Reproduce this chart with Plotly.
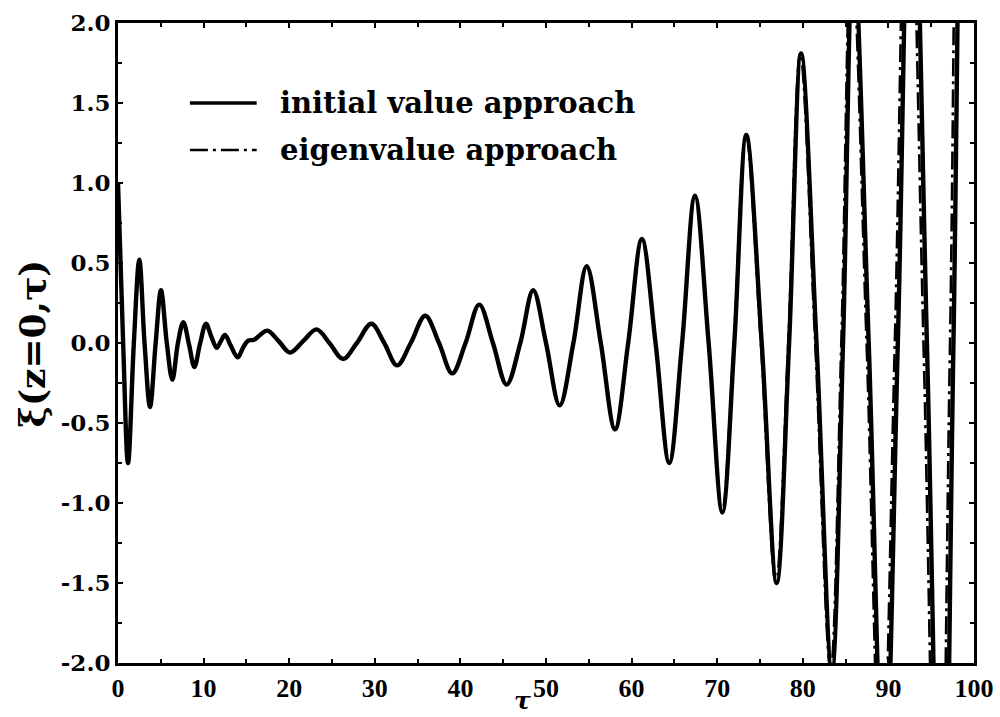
import plotly.graph_objects as go

# ---- data ----
tau_initial = [0, 0.6, 1.17, 1.85, 2.49, 3.1, 3.74, 4.4, 5.02, 5.7, 6.35, 7.0, 7.63, 8.3, 8.92,
               9.6, 10.28, 10.9, 11.53, 12.0, 12.5, 13.2, 13.98, 14.6, 15.2, 15.9, 16.6, 17.45,
               18.8, 20.1, 21.6, 23.2, 24.7, 26.3, 27.9, 29.6, 31.1, 32.6, 34.2, 35.9, 37.5,
               39.05, 40.6, 42.2, 43.8, 45.4, 47.0, 48.5, 50.0, 51.6, 53.2, 54.75, 56.4, 58.06,
               59.6, 61.2, 62.8, 64.4, 65.9, 67.4, 69.0, 70.6, 72.0, 73.4, 75.2, 76.95, 78.4,
               79.8, 81.6, 83.4, 84.7, 85.9, 87.7, 89.5, 91.1, 92.7, 94.5, 96.3, 97.6, 99.2, 100]
xi_initial = [1.0, 0.0, -0.75, 0.0, 0.52, 0.0, -0.40, 0.0, 0.33, 0.0, -0.23, 0.0, 0.13, -0.01, -0.15,
              0.0, 0.12, 0.04, -0.03, 0.01, 0.05, -0.02, -0.09, -0.03, 0.015, 0.02, 0.05, 0.077,
              0.01, -0.06, 0.01, 0.085, 0.0, -0.10, 0.0, 0.12, 0.0, -0.14, 0.0, 0.17, 0.0,
              -0.19, 0.0, 0.24, 0.0, -0.26, 0.0, 0.33, 0.0, -0.39, 0.0, 0.48, 0.0, -0.54,
              0.0, 0.65, 0.0, -0.75, 0.0, 0.92, 0.0, -1.06, 0.0, 1.30, 0.0, -1.50, 0.0,
              1.81, 0.0, -2.05, 0.0, 2.5, 0.0, -2.9, 0.0, 3.5, 0.0, -4.0, 0.0, 5.0, 4.5]

tau_eigen = [0, 0.6, 1.17, 1.85, 2.49, 3.1, 3.74, 4.4, 5.02, 5.7, 6.35, 7.0, 7.63, 8.3, 8.92,
             9.6, 10.28, 10.9, 11.53, 12.0, 12.5, 13.2, 13.98, 14.6, 15.2, 15.9, 16.6, 17.45,
             18.8, 20.1, 21.6, 23.2, 24.7, 26.3, 27.9, 29.6, 31.1, 32.6, 34.2, 35.9, 37.5,
             39.05, 40.6, 42.2, 43.8, 45.4, 47.0, 48.5, 50.0, 51.6, 53.2, 54.75, 56.4, 58.06,
             59.6, 61.2, 62.8, 64.4, 65.9, 67.4, 69.0, 70.55, 71.95, 73.35, 75.1, 76.85, 78.3,
             79.7, 81.45, 83.25, 84.5, 85.7, 87.45, 89.2, 90.75, 92.3, 94.1, 95.9, 97.2, 98.8, 100]
xi_eigen = [1.0, 0.0, -0.75, 0.0, 0.52, 0.0, -0.40, 0.0, 0.33, 0.0, -0.23, 0.0, 0.13, -0.01, -0.15,
            0.0, 0.12, 0.04, -0.03, 0.01, 0.05, -0.02, -0.09, -0.03, 0.015, 0.02, 0.05, 0.077,
            0.01, -0.06, 0.01, 0.085, 0.0, -0.10, 0.0, 0.12, 0.0, -0.14, 0.0, 0.17, 0.0,
            -0.19, 0.0, 0.24, 0.0, -0.26, 0.0, 0.33, 0.0, -0.39, 0.0, 0.48, 0.0, -0.54,
            0.0, 0.65, 0.0, -0.75, 0.0, 0.92, 0.0, -1.06, 0.0, 1.30, 0.0, -1.50, 0.0,
            1.81, 0.0, -2.05, 0.0, 2.5, 0.0, -2.9, 0.0, 3.5, 0.0, -4.0, 0.0, 5.0, 5.5]

x_tick_vals = [0, 10, 20, 30, 40, 50, 60, 70, 80, 90, 100]
x_tick_text = ["0", "10", "20", "30", "40", "50", "60", "70", "80", "90", "100"]
y_tick_vals = [-2.0, -1.5, -1.0, -0.5, 0.0, 0.5, 1.0, 1.5, 2.0]
y_tick_text = ["-2.0", "-1.5", "-1.0", "-0.5", "0.0", "0.5", "1.0", "1.5", "2.0"]

series_names = ["initial value approach", "eigenvalue approach"]

SERIF = "DejaVu Serif"
DASHDOT = "18px,5px,3px,5px"

fig = go.Figure()
fig.add_trace(go.Scatter(x=tau_initial, y=xi_initial, mode="lines",
                         line=dict(color="black", width=4.4, shape="spline", smoothing=1.0),
                         name=series_names[0], showlegend=False))
fig.add_trace(go.Scatter(x=tau_eigen, y=xi_eigen, mode="lines",
                         line=dict(color="black", width=2.6, shape="spline", smoothing=1.0, dash=DASHDOT),
                         name=series_names[1], showlegend=False))

# legend drawn in data coordinates (long line samples like the reference)
leg_y = [1.5, 1.206]
leg_dash = ["solid", DASHDOT]
leg_w = [3.5, 2.6]
for i in range(2):
    fig.add_shape(type="line", x0=8.4, x1=16.2, y0=leg_y[i], y1=leg_y[i], xref="x", yref="y",
                  line=dict(color="black", width=leg_w[i], dash=leg_dash[i]))
    fig.add_annotation(x=18.7, y=leg_y[i], xref="x", yref="y", xanchor="left", yanchor="middle",
                       text="<b>" + series_names[i] + "</b>", showarrow=False,
                       font=dict(family=SERIF, size=29, color="black"))

# axis titles
fig.add_annotation(x=-0.1, y=0.5, xref="paper", yref="paper", textangle=-90,
                   xanchor="center", yanchor="middle",
                   text="<b>ξ(z=0,τ)</b>", showarrow=False,
                   font=dict(family=SERIF, size=36, color="black"))
fig.add_annotation(x=0.473, y=-0.084, xref="paper", yref="paper",
                   xanchor="center", yanchor="bottom",
                   text="<b><i>τ</i></b>", showarrow=False,
                   font=dict(family=SERIF, size=25, color="black"))

axis_common = dict(showline=True, linecolor="black", linewidth=3, mirror="ticks",
                   ticks="inside", ticklen=5, tickwidth=2, tickcolor="black",
                   showgrid=False, zeroline=False, automargin=False)
fig.update_xaxes(range=[0, 100], tickvals=x_tick_vals, ticktext=x_tick_text,
                 tickfont=dict(family="Liberation Serif", size=26, color="black", weight="bold"),
                 minor=dict(dtick=5, ticks="inside", ticklen=4, tickwidth=2, tickcolor="black"),
                 **axis_common)
fig.update_yaxes(range=[-2, 2], tickvals=y_tick_vals, ticktext=y_tick_text,
                 tickfont=dict(family=SERIF, size=23, color="black", weight="bold"),
                 minor=dict(dtick=0.25, ticks="inside", ticklen=4, tickwidth=2, tickcolor="black"),
                 **axis_common)

fig.update_layout(width=1000, height=717, margin=dict(l=118, r=26, t=23, b=54),
                  plot_bgcolor="white", paper_bgcolor="white", showlegend=False)

fig.write_html("out.html")
